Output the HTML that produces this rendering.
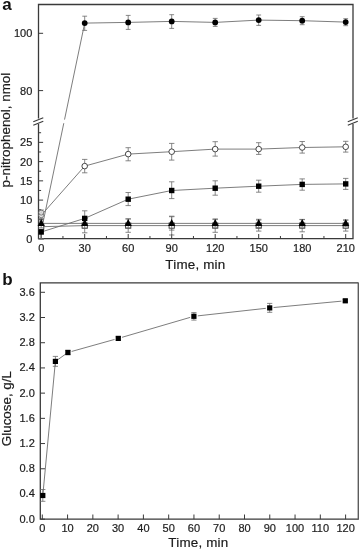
<!DOCTYPE html>
<html><head><meta charset="utf-8"><title>figure</title>
<style>
html,body{margin:0;padding:0;background:#fff;}
body{width:359px;height:550px;overflow:hidden;font-family:"Liberation Sans",sans-serif;}
svg{display:block;filter:blur(0.25px)}
</style></head><body>
<svg width="359" height="550" viewBox="0 0 359 550">
<rect width="359" height="550" fill="#fff"/>
<g stroke="#3a3a3a" stroke-width="1.3" fill="none" stroke-linecap="butt">
<path d="M38.5,118.5 V4.5 H353.0 V118.5"/>
<path d="M38.5,123.9 V238.6 H353.0 V123.9"/>
</g>
<g stroke="#3a3a3a" stroke-width="1.2">
<line x1="33.3" y1="121.7" x2="43.3" y2="117.7"/>
<line x1="33.3" y1="125.3" x2="43.3" y2="121.3"/>
<line x1="347.8" y1="121.7" x2="357.8" y2="117.7"/>
<line x1="347.8" y1="125.3" x2="357.8" y2="121.3"/>
</g>
<g stroke="#3a3a3a" stroke-width="1.0">
<line x1="38.5" y1="33.30" x2="43.1" y2="33.30"/>
<line x1="38.5" y1="90.60" x2="43.1" y2="90.60"/>
<line x1="38.5" y1="238.60" x2="43.1" y2="238.60"/>
<line x1="38.5" y1="219.35" x2="43.1" y2="219.35"/>
<line x1="38.5" y1="200.10" x2="43.1" y2="200.10"/>
<line x1="38.5" y1="180.85" x2="43.1" y2="180.85"/>
<line x1="38.5" y1="161.60" x2="43.1" y2="161.60"/>
<line x1="38.5" y1="142.35" x2="43.1" y2="142.35"/>
<line x1="38.5" y1="228.97" x2="41.1" y2="228.97"/>
<line x1="38.5" y1="209.72" x2="41.1" y2="209.72"/>
<line x1="38.5" y1="190.47" x2="41.1" y2="190.47"/>
<line x1="38.5" y1="171.22" x2="41.1" y2="171.22"/>
<line x1="38.5" y1="151.97" x2="41.1" y2="151.97"/>
<line x1="38.5" y1="132.72" x2="41.1" y2="132.72"/>
<line x1="41.20" y1="238.6" x2="41.20" y2="234.0"/>
<line x1="84.70" y1="238.6" x2="84.70" y2="234.0"/>
<line x1="128.20" y1="238.6" x2="128.20" y2="234.0"/>
<line x1="171.70" y1="238.6" x2="171.70" y2="234.0"/>
<line x1="215.20" y1="238.6" x2="215.20" y2="234.0"/>
<line x1="258.70" y1="238.6" x2="258.70" y2="234.0"/>
<line x1="302.20" y1="238.6" x2="302.20" y2="234.0"/>
<line x1="345.70" y1="238.6" x2="345.70" y2="234.0"/>
<line x1="62.95" y1="238.6" x2="62.95" y2="236.0"/>
<line x1="106.45" y1="238.6" x2="106.45" y2="236.0"/>
<line x1="149.95" y1="238.6" x2="149.95" y2="236.0"/>
<line x1="193.45" y1="238.6" x2="193.45" y2="236.0"/>
<line x1="236.95" y1="238.6" x2="236.95" y2="236.0"/>
<line x1="280.45" y1="238.6" x2="280.45" y2="236.0"/>
<line x1="323.95" y1="238.6" x2="323.95" y2="236.0"/>
</g>
<g font-family="Liberation Sans, sans-serif" font-size="11" fill="#1c1c1c" stroke="#1c1c1c" stroke-width="0.2">
<text x="32.3" y="37.30" text-anchor="end">100</text>
<text x="32.3" y="94.60" text-anchor="end">80</text>
<text x="32.3" y="242.60" text-anchor="end">0</text>
<text x="32.3" y="223.35" text-anchor="end">5</text>
<text x="32.3" y="204.10" text-anchor="end">10</text>
<text x="32.3" y="184.85" text-anchor="end">15</text>
<text x="32.3" y="165.60" text-anchor="end">20</text>
<text x="32.3" y="146.35" text-anchor="end">25</text>
<text x="41.20" y="251.6" text-anchor="middle">0</text>
<text x="84.70" y="251.6" text-anchor="middle">30</text>
<text x="128.20" y="251.6" text-anchor="middle">60</text>
<text x="171.70" y="251.6" text-anchor="middle">90</text>
<text x="215.20" y="251.6" text-anchor="middle">120</text>
<text x="258.70" y="251.6" text-anchor="middle">150</text>
<text x="302.20" y="251.6" text-anchor="middle">180</text>
<text x="345.70" y="251.6" text-anchor="middle">210</text>
</g>
<text x="195.4" y="269.4" text-anchor="middle" font-family="Liberation Sans, sans-serif" font-size="13.4" letter-spacing="0.2" fill="#1c1c1c" stroke="#1c1c1c" stroke-width="0.2">Time, min</text>
<text transform="translate(10.0,130.1) rotate(-90)" text-anchor="middle" font-family="Liberation Sans, sans-serif" font-size="13.4" fill="#1c1c1c" stroke="#1c1c1c" stroke-width="0.2">p-nitrophenol, nmol</text>
<text x="2.3" y="9.9" font-family="Liberation Sans, sans-serif" font-size="17" font-weight="bold" fill="#111">a</text>
<g fill="none" stroke="#6e6e6e" stroke-width="0.9">
<path d="M41.20,231.30L63.79,123.2 M64.54,119.6L84.70,23.10 84.70,23.10 L128.20,22.40 L171.70,21.40 L215.20,22.40 L258.70,20.10 L302.20,20.70 L345.70,22.10"/>
<path d="M41.20,215.30 L84.70,166.10 L128.20,154.10 L171.70,151.70 L215.20,149.10 L258.70,149.10 L302.20,147.50 L345.70,146.80"/>
<path d="M41.20,232.00 L84.70,218.40 L128.20,199.20 L171.70,190.50 L215.20,188.20 L258.70,186.20 L302.20,184.40 L345.70,183.90"/>
<path d="M41.20,223.40 L84.70,223.40 L128.20,223.40 L171.70,223.40 L215.20,223.40 L258.70,223.40 L302.20,223.40 L345.70,223.40"/>
<path d="M41.20,226.70 L84.70,225.60 L128.20,225.60 L171.70,225.60 L215.20,225.60 L258.70,225.60 L302.20,225.60 L345.70,225.60"/>
</g>
<g fill="none" stroke="#6a6a6a" stroke-width="0.8">
<path d="M41.20,210.00V219.00M38.50,210.00h5.4M38.50,219.00h5.4"/>
<path d="M41.20,229.00V239.00M38.50,229.00h5.4M38.50,239.00h5.4"/>
<path d="M41.20,221.00V239.00M38.50,221.00h5.4M38.50,239.00h5.4"/>
<path d="M84.70,16.20V30.40M82.30,16.20h4.8M82.30,30.40h4.8"/>
<path d="M84.70,159.40V172.80M82.00,159.40h5.4M82.00,172.80h5.4"/>
<path d="M84.70,210.80V225.80M82.00,210.80h5.4M82.00,225.80h5.4"/>
<path d="M84.70,218.40V232.80M82.00,218.40h5.4M82.00,232.80h5.4"/>
<path d="M128.20,15.40V29.40M125.80,15.40h4.8M125.80,29.40h4.8"/>
<path d="M128.20,147.70V160.80M125.50,147.70h5.4M125.50,160.80h5.4"/>
<path d="M128.20,192.50V205.60M125.50,192.50h5.4M125.50,205.60h5.4"/>
<path d="M128.20,218.90V232.30M125.50,218.90h5.4M125.50,232.30h5.4"/>
<path d="M171.70,14.70V28.40M169.30,14.70h4.8M169.30,28.40h4.8"/>
<path d="M171.70,143.40V160.10M169.00,143.40h5.4M169.00,160.10h5.4"/>
<path d="M171.70,181.80V198.60M169.00,181.80h5.4M169.00,198.60h5.4"/>
<path d="M171.70,216.20V235.00M169.00,216.20h5.4M169.00,235.00h5.4"/>
<path d="M215.20,18.40V26.40M212.80,18.40h4.8M212.80,26.40h4.8"/>
<path d="M215.20,141.70V156.10M212.50,141.70h5.4M212.50,156.10h5.4"/>
<path d="M215.20,180.80V195.20M212.50,180.80h5.4M212.50,195.20h5.4"/>
<path d="M215.20,218.90V232.30M212.50,218.90h5.4M212.50,232.30h5.4"/>
<path d="M258.70,15.00V25.40M256.30,15.00h4.8M256.30,25.40h4.8"/>
<path d="M258.70,142.70V154.40M256.00,142.70h5.4M256.00,154.40h5.4"/>
<path d="M258.70,180.20V192.20M256.00,180.20h5.4M256.00,192.20h5.4"/>
<path d="M258.70,220.10V231.10M256.00,220.10h5.4M256.00,231.10h5.4"/>
<path d="M302.20,16.70V24.70M299.80,16.70h4.8M299.80,24.70h4.8"/>
<path d="M302.20,141.50V153.10M299.50,141.50h5.4M299.50,153.10h5.4"/>
<path d="M302.20,178.90V190.20M299.50,178.90h5.4M299.50,190.20h5.4"/>
<path d="M302.20,219.40V231.80M299.50,219.40h5.4M299.50,231.80h5.4"/>
<path d="M345.70,18.70V25.70M343.30,18.70h4.8M343.30,25.70h4.8"/>
<path d="M345.70,141.30V152.10M343.00,141.30h5.4M343.00,152.10h5.4"/>
<path d="M345.70,178.40V189.40M343.00,178.40h5.4M343.00,189.40h5.4"/>
<path d="M345.70,220.10V231.10M343.00,220.10h5.4M343.00,231.10h5.4"/>
</g>
<rect x="38.60" y="224.10" width="5.2" height="5.2" fill="#fff" stroke="#333" stroke-width="0.9"/>
<rect x="82.10" y="223.00" width="5.2" height="5.2" fill="#fff" stroke="#333" stroke-width="0.9"/>
<rect x="125.60" y="223.00" width="5.2" height="5.2" fill="#fff" stroke="#333" stroke-width="0.9"/>
<rect x="169.10" y="223.00" width="5.2" height="5.2" fill="#fff" stroke="#333" stroke-width="0.9"/>
<rect x="212.60" y="223.00" width="5.2" height="5.2" fill="#fff" stroke="#333" stroke-width="0.9"/>
<rect x="256.10" y="223.00" width="5.2" height="5.2" fill="#fff" stroke="#333" stroke-width="0.9"/>
<rect x="299.60" y="223.00" width="5.2" height="5.2" fill="#fff" stroke="#333" stroke-width="0.9"/>
<rect x="343.10" y="223.00" width="5.2" height="5.2" fill="#fff" stroke="#333" stroke-width="0.9"/>
<g fill="none" stroke="#6a6a6a" stroke-width="0.8">
<path d="M41.20,219.00V227.80M38.50,219.00h5.4M38.50,227.80h5.4"/>
<path d="M84.70,218.50V228.30M82.00,218.50h5.4M82.00,228.30h5.4"/>
<path d="M128.20,218.90V227.90M125.50,218.90h5.4M125.50,227.90h5.4"/>
<path d="M171.70,216.70V230.10M169.00,216.70h5.4M169.00,230.10h5.4"/>
<path d="M215.20,219.60V227.20M212.50,219.60h5.4M212.50,227.20h5.4"/>
<path d="M258.70,219.30V227.50M256.00,219.30h5.4M256.00,227.50h5.4"/>
<path d="M302.20,219.70V227.10M299.50,219.70h5.4M299.50,227.10h5.4"/>
<path d="M345.70,220.00V226.80M343.00,220.00h5.4M343.00,226.80h5.4"/>
</g>
<path d="M41.20,219.00L44.80,226.10H37.60Z" fill="#000"/>
<path d="M84.70,219.00L88.30,226.10H81.10Z" fill="#000"/>
<path d="M128.20,219.00L131.80,226.10H124.60Z" fill="#000"/>
<path d="M171.70,219.00L175.30,226.10H168.10Z" fill="#000"/>
<path d="M215.20,219.00L218.80,226.10H211.60Z" fill="#000"/>
<path d="M258.70,219.00L262.30,226.10H255.10Z" fill="#000"/>
<path d="M302.20,219.00L305.80,226.10H298.60Z" fill="#000"/>
<path d="M345.70,219.00L349.30,226.10H342.10Z" fill="#000"/>
<rect x="38.50" y="229.30" width="5.4" height="5.4" fill="#000"/>
<rect x="82.00" y="215.70" width="5.4" height="5.4" fill="#000"/>
<rect x="125.50" y="196.50" width="5.4" height="5.4" fill="#000"/>
<rect x="169.00" y="187.80" width="5.4" height="5.4" fill="#000"/>
<rect x="212.50" y="185.50" width="5.4" height="5.4" fill="#000"/>
<rect x="256.00" y="183.50" width="5.4" height="5.4" fill="#000"/>
<rect x="299.50" y="181.70" width="5.4" height="5.4" fill="#000"/>
<rect x="343.00" y="181.20" width="5.4" height="5.4" fill="#000"/>
<circle cx="84.70" cy="23.10" r="2.9" fill="#000"/>
<circle cx="128.20" cy="22.40" r="2.9" fill="#000"/>
<circle cx="171.70" cy="21.40" r="2.9" fill="#000"/>
<circle cx="215.20" cy="22.40" r="2.9" fill="#000"/>
<circle cx="258.70" cy="20.10" r="2.9" fill="#000"/>
<circle cx="302.20" cy="20.70" r="2.9" fill="#000"/>
<circle cx="345.70" cy="22.10" r="2.9" fill="#000"/>
<circle cx="84.70" cy="166.10" r="2.8" fill="#fff" stroke="#333" stroke-width="0.9"/>
<circle cx="128.20" cy="154.10" r="2.8" fill="#fff" stroke="#333" stroke-width="0.9"/>
<circle cx="171.70" cy="151.70" r="2.8" fill="#fff" stroke="#333" stroke-width="0.9"/>
<circle cx="215.20" cy="149.10" r="2.8" fill="#fff" stroke="#333" stroke-width="0.9"/>
<circle cx="258.70" cy="149.10" r="2.8" fill="#fff" stroke="#333" stroke-width="0.9"/>
<circle cx="302.20" cy="147.50" r="2.8" fill="#fff" stroke="#333" stroke-width="0.9"/>
<circle cx="345.70" cy="146.80" r="2.8" fill="#fff" stroke="#333" stroke-width="0.9"/>
<circle cx="41.20" cy="215.30" r="2.5" fill="#e4e4e4" stroke="#666" stroke-width="0.8"/>
<circle cx="41.20" cy="212.6" r="2.5" fill="#e4e4e4" fill-opacity="0.7" stroke="#666" stroke-width="0.8"/>
<path d="M358.3,282.9H40.3V519.2H358.3" fill="none" stroke="#3a3a3a" stroke-width="1.3"/>
<line x1="358.4" y1="282.4" x2="358.4" y2="519.7" stroke="#5c5c5c" stroke-width="1.6"/>
<g stroke="#3a3a3a" stroke-width="1.0">
<line x1="40.3" y1="519.20" x2="45.0" y2="519.20"/>
<line x1="40.3" y1="493.99" x2="45.0" y2="493.99"/>
<line x1="40.3" y1="468.78" x2="45.0" y2="468.78"/>
<line x1="40.3" y1="443.56" x2="45.0" y2="443.56"/>
<line x1="40.3" y1="418.35" x2="45.0" y2="418.35"/>
<line x1="40.3" y1="393.14" x2="45.0" y2="393.14"/>
<line x1="40.3" y1="367.93" x2="45.0" y2="367.93"/>
<line x1="40.3" y1="342.72" x2="45.0" y2="342.72"/>
<line x1="40.3" y1="317.50" x2="45.0" y2="317.50"/>
<line x1="40.3" y1="292.29" x2="45.0" y2="292.29"/>
<line x1="42.30" y1="519.2" x2="42.30" y2="514.5"/>
<line x1="67.57" y1="519.2" x2="67.57" y2="514.5"/>
<line x1="92.85" y1="519.2" x2="92.85" y2="514.5"/>
<line x1="118.12" y1="519.2" x2="118.12" y2="514.5"/>
<line x1="143.40" y1="519.2" x2="143.40" y2="514.5"/>
<line x1="168.68" y1="519.2" x2="168.68" y2="514.5"/>
<line x1="193.95" y1="519.2" x2="193.95" y2="514.5"/>
<line x1="219.22" y1="519.2" x2="219.22" y2="514.5"/>
<line x1="244.50" y1="519.2" x2="244.50" y2="514.5"/>
<line x1="269.77" y1="519.2" x2="269.77" y2="514.5"/>
<line x1="295.05" y1="519.2" x2="295.05" y2="514.5"/>
<line x1="320.32" y1="519.2" x2="320.32" y2="514.5"/>
<line x1="345.60" y1="519.2" x2="345.60" y2="514.5"/>
</g>
<g font-family="Liberation Sans, sans-serif" font-size="11" fill="#1c1c1c" stroke="#1c1c1c" stroke-width="0.2">
<text x="34.8" y="522.70" text-anchor="end">0.0</text>
<text x="34.8" y="497.49" text-anchor="end">0.4</text>
<text x="34.8" y="472.28" text-anchor="end">0.8</text>
<text x="34.8" y="447.06" text-anchor="end">1.2</text>
<text x="34.8" y="421.85" text-anchor="end">1.6</text>
<text x="34.8" y="396.64" text-anchor="end">2.0</text>
<text x="34.8" y="371.43" text-anchor="end">2.4</text>
<text x="34.8" y="346.22" text-anchor="end">2.8</text>
<text x="34.8" y="321.00" text-anchor="end">3.2</text>
<text x="34.8" y="295.79" text-anchor="end">3.6</text>
<text x="42.30" y="531.5" text-anchor="middle">0</text>
<text x="67.57" y="531.5" text-anchor="middle">10</text>
<text x="92.85" y="531.5" text-anchor="middle">20</text>
<text x="118.12" y="531.5" text-anchor="middle">30</text>
<text x="143.40" y="531.5" text-anchor="middle">40</text>
<text x="168.68" y="531.5" text-anchor="middle">50</text>
<text x="193.95" y="531.5" text-anchor="middle">60</text>
<text x="219.22" y="531.5" text-anchor="middle">70</text>
<text x="244.50" y="531.5" text-anchor="middle">80</text>
<text x="269.77" y="531.5" text-anchor="middle">90</text>
<text x="295.05" y="531.5" text-anchor="middle">100</text>
<text x="320.32" y="531.5" text-anchor="middle">110</text>
<text x="345.60" y="531.5" text-anchor="middle">120</text>
</g>
<text x="198.4" y="546.6" text-anchor="middle" font-family="Liberation Sans, sans-serif" font-size="13.4" letter-spacing="0.2" fill="#1c1c1c" stroke="#1c1c1c" stroke-width="0.2">Time, min</text>
<text transform="translate(11.3,408.6) rotate(-90)" text-anchor="middle" font-family="Liberation Sans, sans-serif" font-size="13.4" fill="#1c1c1c" stroke="#1c1c1c" stroke-width="0.2">Glucose, g/L</text>
<text x="2.2" y="285.4" font-family="Liberation Sans, sans-serif" font-size="17" font-weight="bold" fill="#111">b</text>
<path d="M42.80,495.50L55.40,361.40 M55.40,361.40L67.90,352.50 M71.66,351.45L114.54,339.45 M122.04,337.31L190.16,317.39 M197.78,315.87L265.82,308.33 M273.58,307.54L341.42,301.16" fill="none" stroke="#6e6e6e" stroke-width="0.9"/>
<g fill="none" stroke="#6a6a6a" stroke-width="0.8">
<path d="M42.80,489.50V501.30M40.20,489.50h5.2M40.20,501.30h5.2"/>
<path d="M55.40,356.40V366.30M52.80,356.40h5.2M52.80,366.30h5.2"/>
<path d="M67.90,350.30V354.70M65.30,350.30h5.2M65.30,354.70h5.2"/>
<path d="M118.30,336.80V340.00M115.70,336.80h5.2M115.70,340.00h5.2"/>
<path d="M193.90,312.60V320.10M191.30,312.60h5.2M191.30,320.10h5.2"/>
<path d="M269.70,303.40V312.30M267.10,303.40h5.2M267.10,312.30h5.2"/>
<path d="M345.30,299.60V302.00M342.70,299.60h5.2M342.70,302.00h5.2"/>
</g>
<rect x="40.20" y="492.90" width="5.2" height="5.2" fill="#000"/>
<rect x="52.80" y="358.80" width="5.2" height="5.2" fill="#000"/>
<rect x="65.30" y="349.90" width="5.2" height="5.2" fill="#000"/>
<rect x="115.70" y="335.80" width="5.2" height="5.2" fill="#000"/>
<rect x="191.30" y="313.70" width="5.2" height="5.2" fill="#000"/>
<rect x="267.10" y="305.30" width="5.2" height="5.2" fill="#000"/>
<rect x="342.70" y="298.20" width="5.2" height="5.2" fill="#000"/>
</svg>
</body></html>
